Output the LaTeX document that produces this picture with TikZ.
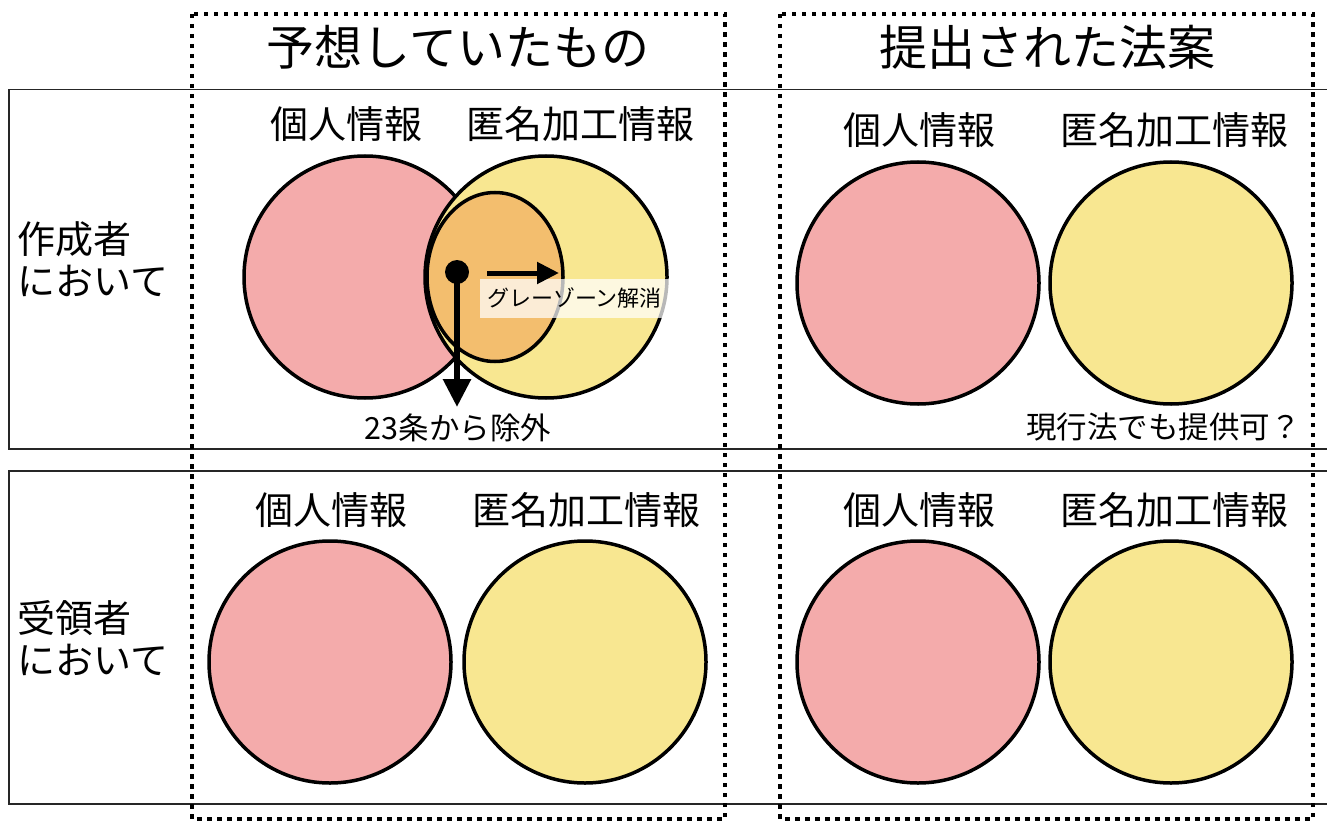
\documentclass[tikz,border=0pt]{standalone}
\usepackage{fontspec}
\setmainfont{Noto Sans CJK JP}
\usetikzlibrary{arrows.meta,shapes.geometric}
\definecolor{pinkc}{HTML}{F4ABAB}
\definecolor{yellowc}{HTML}{F8E791}
\definecolor{orangec}{HTML}{F3BE6E}
\begin{document}
\begin{tikzpicture}[x=1pt,y=-1pt,
  rowbox/.style={draw=black!85, line width=1.8pt},
  colbox/.style={draw=black, line width=4.5pt, dash pattern=on 4.5pt off 5.5pt},
  setc/.style={circle, draw=black, line width=3.5pt, minimum size=242pt, inner sep=0pt},
  pinkset/.style={setc, fill=pinkc},
  yellowset/.style={setc, fill=yellowc},
  titletext/.style={font=\fontsize{48pt}{56pt}\selectfont, inner sep=0pt},
  lab/.style={font=\fontsize{38pt}{44pt}\selectfont, inner sep=0pt},
  side/.style={font=\fontsize{38pt}{42.5pt}\selectfont, align=left, anchor=west, inner sep=0pt},
  note/.style={font=\fontsize{30.5pt}{36pt}\selectfont, inner sep=0pt},
  small/.style={font=\fontsize{22pt}{26pt}\selectfont, inner sep=0pt},
  arrowline/.style={line width=#1, draw=black},
]
\useasboundingbox (0,0) rectangle (1327,821);
% row boxes
\draw[rowbox] (9,89.5) rectangle (1340,449);
\draw[rowbox] (9,471) rectangle (1340,804);
% column boxes
\draw[colbox] (192,14) rectangle (725,819);
\draw[colbox] (780,14) rectangle (1313,819);
% titles
\node[titletext] (t1) at (458,47) {予想していたもの};
\node[titletext] (t2) at (1047,47) {提出された法案};
% side labels
\node[side] (s1) at (17,259) {作成者\\において};
\node[side] (s2) at (17,638) {受領者\\において};
% top-left
\node[lab] (l1) at (346,124) {個人情報};
\node[lab] (l2) at (580,124) {匿名加工情報};
\node[pinkset] (p1) at (365,277) {};
\node[yellowset] (y1) at (546,277) {};
\node[ellipse, draw=black, line width=3.5pt, fill=orangec, minimum width=136pt, minimum height=169pt, inner sep=0pt] (o1) at (495,277) {};
\node[small, fill=white, fill opacity=0.72, text opacity=1, minimum width=189pt, minimum height=39pt] (g1) at (574.5,298.5) {グレーゾーン解消};
\node[circle, fill=black, minimum size=24pt, inner sep=0pt] (dot) at (457,272) {};
\coordinate (rs) at (487,273);
\coordinate (rt) at (559,273);
\coordinate (dt) at (457,407);
\draw[arrowline=5pt, -{Triangle[length=22pt,width=21pt]}] (rs) -- (rt);
\draw[arrowline=6pt, -{Triangle[length=28pt,width=27pt]}] (dot.center) -- (dt);
\node[note] (n1) at (458,428) {23条から除外};
% top-right
\node[lab] (l3) at (919,130) {個人情報};
\node[lab] (l4) at (1174,130) {匿名加工情報};
\node[pinkset] (p2) at (918,283) {};
\node[yellowset] (y2) at (1171,283) {};
\node[note, anchor=west] (n2) at (1026,427) {現行法でも提供可？};
% bottom-left
\node[lab] (l5) at (331,510) {個人情報};
\node[lab] (l6) at (586,510) {匿名加工情報};
\node[pinkset] (p3) at (330,662) {};
\node[yellowset] (y3) at (585,662) {};
% bottom-right
\node[lab] (l7) at (919,510) {個人情報};
\node[lab] (l8) at (1174,510) {匿名加工情報};
\node[pinkset] (p4) at (918,662) {};
\node[yellowset] (y4) at (1171,662) {};
\end{tikzpicture}
\end{document}
